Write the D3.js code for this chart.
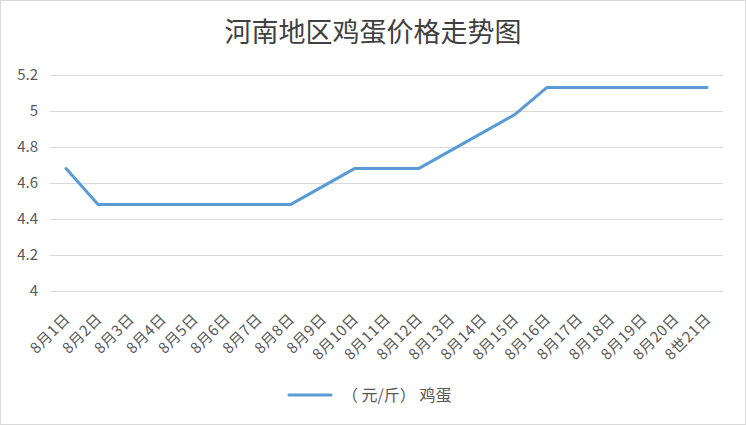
<!DOCTYPE html>
<html><head><meta charset="utf-8">
<script src="https://cdn.jsdelivr.net/npm/d3@7/dist/d3.min.js"></script>
<style>body{margin:0;background:#fff;}svg{display:block;}</style>
</head><body>
<svg id="c" width="746" height="425"></svg>
<script>
const categories = ["8月1日","8月2日","8月3日","8月4日","8月5日","8月6日","8月7日","8月8日","8月9日","8月10日","8月11日","8月12日","8月13日","8月14日","8月15日","8月16日","8月17日","8月18日","8月19日","8月20日","8世21日"];
const eggPrice = [4.68,4.48,4.48,4.48,4.48,4.48,4.48,4.48,4.58,4.68,4.68,4.68,4.78,4.88,4.98,5.13,5.13,5.13,5.13,5.13,5.13];
const yTicks = [4,4.2,4.4,4.6,4.8,5,5.2];
const title = "河南地区鸡蛋价格走势图";
const seriesName = "（ 元/斤） 鸡蛋";

const svg = d3.select("#c");
const W = 746, H = 425;
const font = "'Microsoft YaHei','Noto Sans CJK SC','Noto Sans',sans-serif";
svg.append("rect").attr("x",0.5).attr("y",0.5).attr("width",W-1).attr("height",H-1)
  .attr("fill","#fff").attr("stroke","#d9d9d9");

const m = {left:50, right:23, top:75, bottom:134};
const x = d3.scaleBand().domain(categories).range([m.left, W-m.right]);
const y = d3.scaleLinear().domain([4,5.2]).range([H-m.bottom, m.top]);

svg.append("text").attr("x",373).attr("y",42).attr("text-anchor","middle")
  .attr("font-family","'Noto Sans CJK SC',sans-serif").attr("font-size",27).attr("fill","#404040").text(title);

const yAxis = d3.axisLeft(y).tickValues(yTicks).tickSize(-(W-m.left-m.right)).tickFormat(d=>d3.format("~g")(d)).tickPadding(12);
const gy = svg.append("g").attr("transform",`translate(${m.left},0)`).call(yAxis);
gy.select(".domain").remove();
gy.selectAll(".tick line").attr("stroke","#d9d9d9");
gy.selectAll(".tick text").attr("font-family",font).attr("font-size",15).attr("fill","#595959");

const xAxis = d3.axisBottom(x).tickSize(0).tickPadding(0);
const gx = svg.append("g").attr("transform",`translate(0,${H-m.bottom})`).call(xAxis);
gx.select(".domain").remove();
gx.selectAll(".tick text").attr("font-family",font).attr("font-size",15).attr("fill","#595959")
  .attr("text-anchor","end").attr("dy",0).attr("letter-spacing",0.5)
  .attr("transform","translate(5,29) rotate(-45)");

const line = d3.line().x((d,i)=>x(categories[i])+x.bandwidth()/2).y(d=>y(d));
svg.append("path").datum(eggPrice).attr("d",line).attr("fill","none")
  .attr("stroke","#5b9bd5").attr("stroke-width",3).attr("stroke-linecap","round").attr("stroke-linejoin","round");

const lg = svg.append("g").attr("transform","translate(289,395)");
lg.append("line").attr("x1",0).attr("x2",42).attr("y1",0).attr("y2",0).attr("stroke","#5b9bd5").attr("stroke-width",3).attr("stroke-linecap","round");
lg.append("text").attr("x",53).attr("y",5.5).attr("font-family",font).attr("font-size",16).attr("fill","#595959").text(seriesName);
</script>
</body></html>
